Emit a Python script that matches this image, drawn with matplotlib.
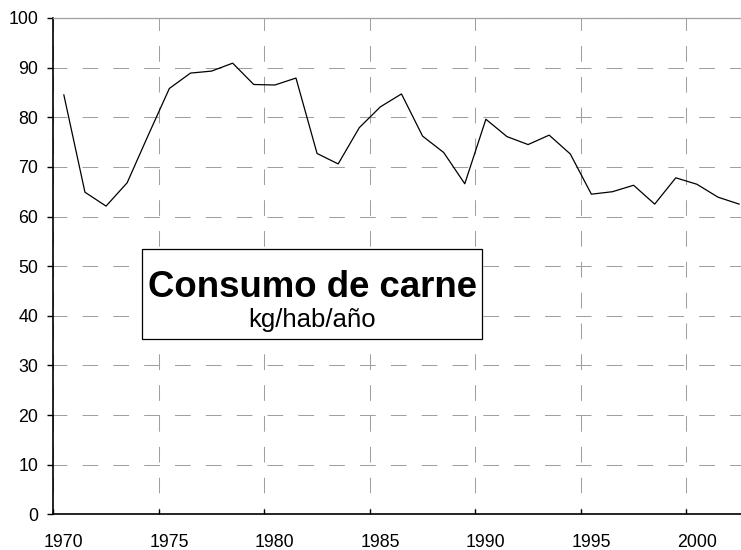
import numpy as np
import matplotlib
matplotlib.use("Agg")
import matplotlib.pyplot as plt
from matplotlib.patches import Rectangle

# Consumo de carne, kg/hab/año
years = list(range(1970, 2003))
consumo = [84.5, 64.9, 62.1, 66.8, 76.4, 85.8, 88.9, 89.3, 90.9, 86.6,
           86.5, 87.9, 72.7, 70.6, 77.9, 82.1, 84.7, 76.2, 72.9, 66.6,
           79.6, 76.1, 74.5, 76.4, 72.6, 64.5, 65.0, 66.3, 62.5, 67.8,
           66.5, 63.9, 62.5]
xtick_years = [1970, 1975, 1980, 1985, 1990, 1995, 2000]
yticks = [0, 10, 20, 30, 40, 50, 60, 70, 80, 90, 100]
title = "Consumo de carne"
subtitle = "kg/hab/año"

plt.rcParams['font.family'] = ['Liberation Sans', 'DejaVu Sans']
plt.rcParams['lines.scale_dashes'] = False

fig = plt.figure(figsize=(7.41, 5.50), dpi=100)
ax = fig.add_axes([53.3/741, 35.7/550, 687.7/741, 496.3/550])

# each year sits in the middle of its category slot
xs = np.array(years) + 0.5
ax.plot(xs, consumo, color='black', lw=0.9)

ax.set_xlim(1970, 2002.59)
ax.set_ylim(0, 100)

# major ticks: marks and grid, minor ticks: labels centred on the slot
ax.set_xticks(xtick_years)
ax.set_xticklabels([])
ax.set_xticks([y + 0.5 for y in xtick_years], minor=True)
ax.set_xticklabels([str(y) for y in xtick_years], minor=True)
ax.tick_params(axis='x', which='major', direction='in', length=3.6, width=1, color='black')
ax.tick_params(axis='x', which='minor', length=0, pad=14, labelsize=12.8)

ax.set_yticks(yticks)
ax.tick_params(axis='y', direction='out', length=4, width=1, pad=7, labelsize=12.8)

grid_col = '#a0a0a0'
ax.xaxis.grid(True, which='major', color=grid_col, lw=0.75, linestyle=(7.0, (11.3, 10.9)))
ax.yaxis.grid(True, which='major', color=grid_col, lw=0.75, linestyle=(1.3, (11.3, 10.9)))
ax.set_axisbelow(True)

for s in ['left', 'bottom']:
    ax.spines[s].set_color('black')
    ax.spines[s].set_linewidth(1.2)
ax.spines['top'].set_color(grid_col)
ax.spines['top'].set_linewidth(0.9)
ax.spines['right'].set_visible(False)

# title box
box = Rectangle((0.1294, 0.3526), 0.623 - 0.1294, 0.534 - 0.3526, transform=ax.transAxes,
                facecolor='white', edgecolor='black', lw=0.9, zorder=5)
ax.add_patch(box)
ax.text(0.3762, 0.4373, title, transform=ax.transAxes, ha='center', va='baseline',
        fontsize=26.4, fontweight='bold', zorder=6)
ax.text(0.3762, 0.3768, subtitle, transform=ax.transAxes, ha='center', va='baseline',
        fontsize=18.5, zorder=6)

fig.savefig('out.png', dpi=100)
plt.close('all')
